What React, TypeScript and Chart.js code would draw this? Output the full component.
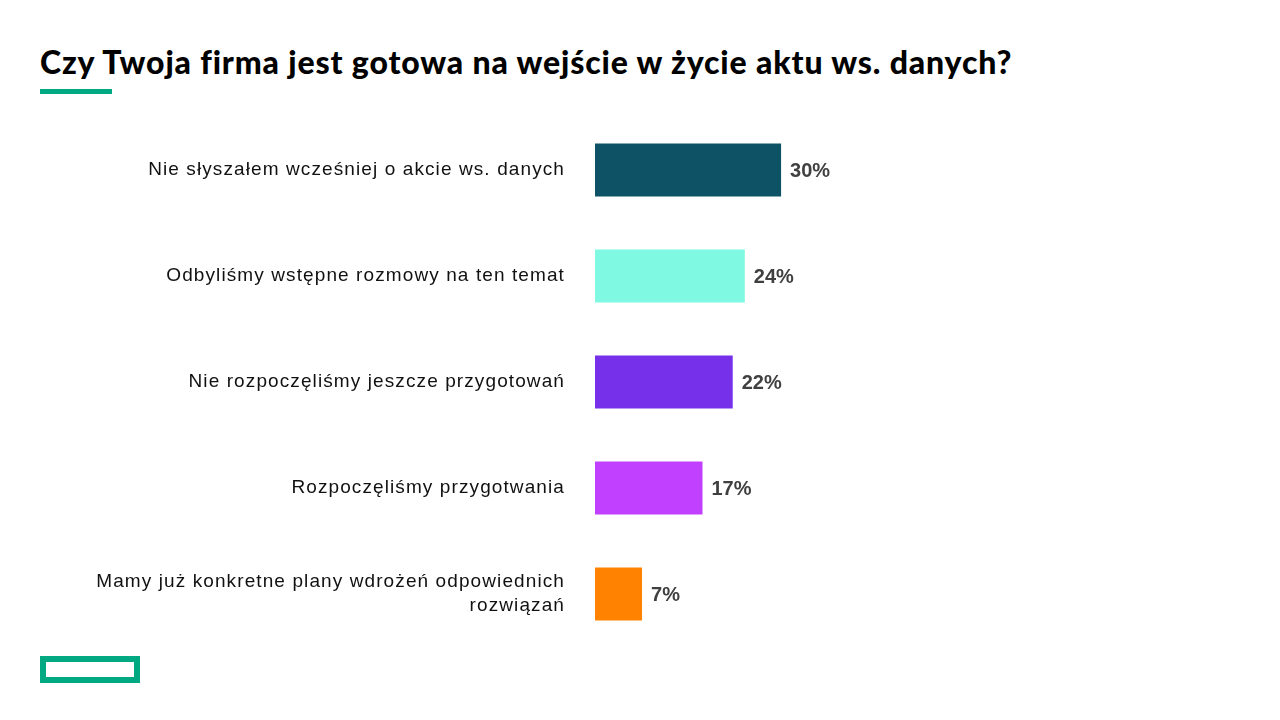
import React, { useEffect, useRef } from "react";
import { Chart, registerables } from "chart.js";

Chart.register(...registerables);

const TITLE = "Czy Twoja firma jest gotowa na wejście w życie aktu ws. danych?";
const CATEGORIES: (string | string[])[] = [
  "Nie słyszałem wcześniej o akcie ws. danych",
  "Odbyliśmy wstępne rozmowy na ten temat",
  "Nie rozpoczęliśmy jeszcze przygotowań",
  "Rozpoczęliśmy przygotwania",
  ["Mamy już konkretne plany wdrożeń odpowiednich", "rozwiązań"],
];
const VALUES = [30, 24, 22, 17, 7];
const VALUE_LABELS = ["30%", "24%", "22%", "17%", "7%"];
const BAR_COLORS = ["#0D5265", "#7FF9E2", "#7630EA", "#C140FF", "#FF8300"];

const GREEN = "#01A982";

const valueLabelPlugin = {
  id: "valueLabels",
  afterDatasetsDraw(chart: any) {
    const ctx = chart.ctx;
    const meta = chart.getDatasetMeta(0);
    ctx.save();
    ctx.letterSpacing = "0px";
    ctx.font = "bold 20px 'Liberation Sans', Arial, sans-serif";
    ctx.fillStyle = "#404040";
    ctx.textAlign = "left";
    ctx.textBaseline = "middle";
    meta.data.forEach((bar: any, i: number) => {
      ctx.fillText(VALUE_LABELS[i], bar.x + 9, bar.y + 1);
    });
    ctx.restore();
  },
};

const spacingPlugin = {
  id: "letterSpacing",
  beforeDraw(chart: any) {
    chart.ctx.letterSpacing = "1.1px";
  },
  afterDraw(chart: any) {
    chart.ctx.letterSpacing = "0px";
  },
};

function BarChart() {
  const ref = useRef<HTMLCanvasElement>(null);
  useEffect(() => {
    if (!ref.current) return;
    const chart = new Chart(ref.current, {
      type: "bar",
      data: {
        labels: CATEGORIES,
        datasets: [
          {
            data: VALUES,
            backgroundColor: BAR_COLORS,
            borderWidth: 0,
            base: -0.78,
            categoryPercentage: 1,
            barPercentage: 0.5,
          } as any,
        ],
      },
      options: {
        indexAxis: "y",
        responsive: false,
        animation: false,
        devicePixelRatio: 1,
        layout: { padding: 0 },
        plugins: {
          legend: { display: false },
          title: { display: false },
          tooltip: { enabled: false },
        },
        scales: {
          x: {
            display: false,
            min: -0.78,
            max: 50,
          },
          y: {
            afterFit(scale: any) {
              scale.width = 595;
              scale.paddingTop = 0;
              scale.paddingBottom = 0;
            },
            border: { display: false },
            grid: { display: false, drawTicks: false },
            ticks: {
              padding: 30,
              color: "#111111",
              font: {
                family: "'Liberation Sans', Arial, sans-serif",
                size: 19,
                lineHeight: 1.26,
              },
            },
          },
        },
      },
      plugins: [spacingPlugin, valueLabelPlugin],
    });
    return () => chart.destroy();
  }, []);
  return (
    <canvas
      ref={ref}
      width={902}
      height={530}
      style={{ position: "absolute", left: 0, top: 117, width: 902, height: 530 }}
    />
  );
}

export default function App() {
  return (
    <div
      style={{
        position: "fixed",
        left: 0,
        top: 0,
        width: 1280,
        height: 720,
        background: "#ffffff",
        overflow: "hidden",
      }}
    >
      <div
        style={{
          position: "absolute",
          left: 40,
          top: 38,
          fontFamily: "Lato, 'Open Sans', sans-serif",
          fontWeight: 900,
          fontSize: 32,
          lineHeight: "48px",
          color: "#000000",
          whiteSpace: "nowrap",
          letterSpacing: "0.85px",
        }}
      >
        {TITLE}
      </div>
      <div
        style={{
          position: "absolute",
          left: 40,
          top: 89,
          width: 72,
          height: 5,
          background: GREEN,
        }}
      />
      <BarChart />
      <div
        style={{
          position: "absolute",
          left: 40,
          top: 656,
          width: 100,
          height: 27,
          boxSizing: "border-box",
          border: `6px solid ${GREEN}`,
        }}
      />
    </div>
  );
}
